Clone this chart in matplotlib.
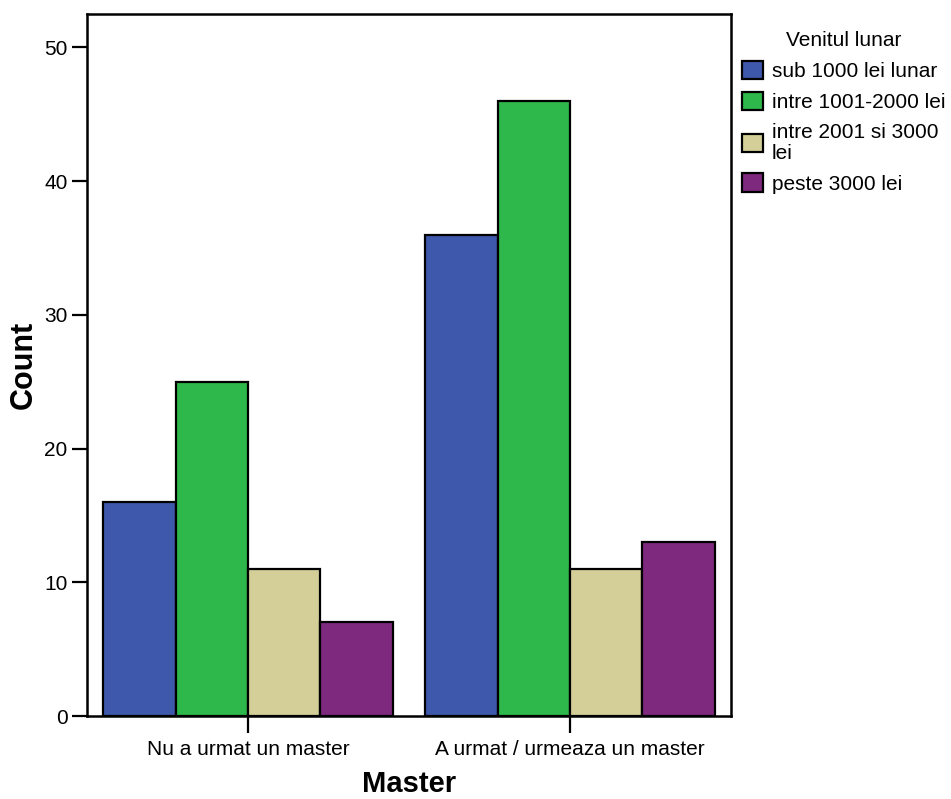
import matplotlib.pyplot as plt
import numpy as np

plt.rcParams['font.family'] = ['Liberation Sans', 'DejaVu Sans']

# Date
categorii = ['Nu a urmat un master', 'A urmat / urmeaza un master']
venit = ['sub 1000 lei lunar', 'intre 1001-2000 lei', 'intre 2001 si 3000\nlei', 'peste 3000 lei']
sub_1000 = [16, 36]
intre_1001_2000 = [25, 46]
intre_2001_3000 = [11, 11]
peste_3000 = [7, 13]
culori = ['#3E58AC', '#2EB84B', '#D4CF99', '#7E297D']

serii = [sub_1000, intre_1001_2000, intre_2001_3000, peste_3000]

fig = plt.figure(figsize=(9.51, 7.99), dpi=100)
ax = fig.add_axes([87 / 951, 1 - 716 / 799, (731 - 87) / 951, (716 - 14) / 799])

x = np.arange(len(categorii))
w = 0.225
for i, (vals, c, nume) in enumerate(zip(serii, culori, venit)):
    ax.bar(x + (i - 1.5) * w, vals, w, color=c, edgecolor='black', linewidth=1.6, label=nume)

ax.set_xlim(-0.5, 1.5)
ax.set_ylim(0, 52.5)
ax.set_yticks([0, 10, 20, 30, 40, 50])
ax.set_xticks(x)
ax.set_xticklabels(categorii)
ax.tick_params(axis='both', labelsize=15, width=1.6)
ax.tick_params(axis='y', length=11, pad=3)
ax.tick_params(axis='x', length=12, pad=5)
for s in ax.spines.values():
    s.set_linewidth(1.8)

ax.set_xlabel('Master', fontsize=21, fontweight='bold', labelpad=8)
ax.set_ylabel('Count', fontsize=22, fontweight='bold', labelpad=4)

leg = fig.legend(loc='upper left', bbox_to_anchor=(734 / 951, 1 - 23 / 799), frameon=False,
                 title='Venitul lunar', fontsize=15, title_fontsize=15,
                 handlelength=1.0, handleheight=1.0, handletextpad=0.4,
                 labelspacing=0.5, borderaxespad=0)
for h in leg.legend_handles:
    h.set_linewidth(1.6)
for t in leg.get_texts():
    t.set_linespacing(1.15)

plt.savefig('out.png', dpi=100)
